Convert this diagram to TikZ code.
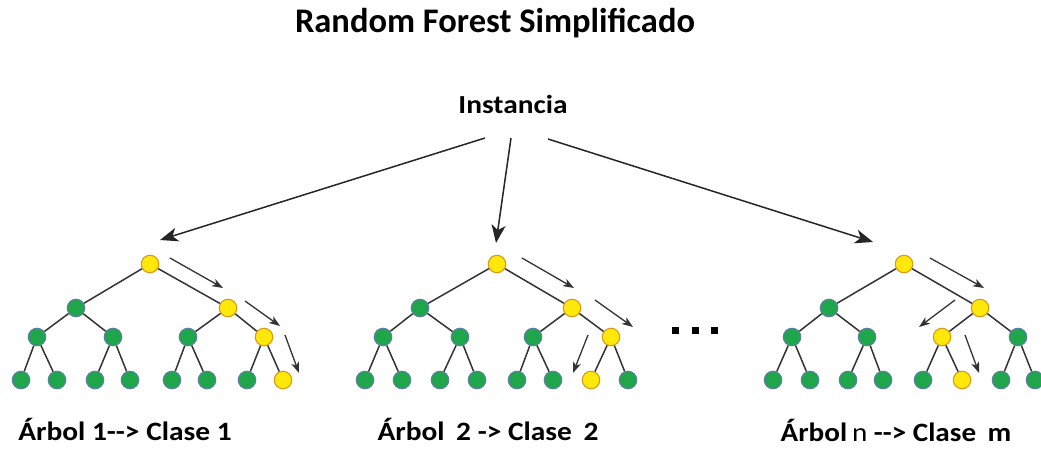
\documentclass[tikz,border=0pt]{standalone}
\usepackage{fontspec}
\setmainfont{Carlito}
\usetikzlibrary{arrows.meta}
\definecolor{gfill}{HTML}{1FA64A}
\definecolor{gline}{HTML}{5C7FA3}
\definecolor{yfill}{HTML}{FFE80A}
\definecolor{yline}{HTML}{D99A1A}
\definecolor{edgec}{HTML}{333333}
\tikzset{
  gn/.style={circle,minimum size=17.5pt,inner sep=0pt,fill=gfill,draw=gline,line width=1.1pt},
  yn/.style={circle,minimum size=17.5pt,inner sep=0pt,fill=yfill,draw=yline,line width=1.1pt},
  tedge/.style={draw=edgec,line width=1.5pt},
  bigarrow/.style={draw=black!85,line width=1.5pt,-{Stealth[length=18pt,width=14pt,inset=5pt]}},
  smallarrow/.style={draw=black!80,line width=1.3pt,-{Stealth[length=11pt,width=8pt,inset=3pt]}},
  lbl/.style={font=\bfseries\fontsize{26.5}{30}\selectfont,inner sep=0pt,anchor=base},
  dot/.style={fill=black,minimum size=7pt,inner sep=0pt},
}
\begin{document}
\begin{tikzpicture}[x=1pt,y=-1pt]
\useasboundingbox (0,0) rectangle (1041,450);
\node[font=\bfseries\fontsize{34.5}{40}\selectfont,inner sep=0pt,anchor=base] (title) at (495,32) {Random Forest Simplificado};
\node[font=\bfseries\fontsize{26}{30}\selectfont,inner sep=0pt,anchor=base] (inst) at (513,113) {\scalebox{1.13}[1]{Instancia}};

% ---------- Tree 1 ----------
\node[yn] (a0) at (150,264) {};
\node[gn] (a1) at (76,308) {};
\node[yn] (a2) at (228,308) {};
\node[gn] (a3) at (37,337) {};
\node[gn] (a4) at (113,337) {};
\node[gn] (a5) at (188,337) {};
\node[yn] (a6) at (264,337) {};
\node[gn] (a7) at (21,380) {};
\node[gn] (a8) at (57,380) {};
\node[gn] (a9) at (95,380) {};
\node[gn] (a10) at (130,380) {};
\node[gn] (a11) at (172,380) {};
\node[gn] (a12) at (207,380) {};
\node[gn] (a13) at (247,380) {};
\node[yn] (a14) at (283,380) {};
% ---------- Tree 2 ----------
\node[yn] (b0) at (497,264) {};
\node[gn] (b1) at (420,308) {};
\node[yn] (b2) at (572,308) {};
\node[gn] (b3) at (383,337) {};
\node[gn] (b4) at (460,337) {};
\node[gn] (b5) at (533,337) {};
\node[yn] (b6) at (611,337) {};
\node[gn] (b7) at (365,380) {};
\node[gn] (b8) at (402,380) {};
\node[gn] (b9) at (440,380) {};
\node[gn] (b10) at (477,380) {};
\node[gn] (b11) at (517,380) {};
\node[gn] (b12) at (553,380) {};
\node[yn] (b13) at (591,380) {};
\node[gn] (b14) at (628,380) {};
% ---------- Tree 3 ----------
\node[yn] (c0) at (904,264) {};
\node[gn] (c1) at (829,308) {};
\node[yn] (c2) at (980,308) {};
\node[gn] (c3) at (792,337) {};
\node[gn] (c4) at (867,337) {};
\node[yn] (c5) at (942,337) {};
\node[gn] (c6) at (1018,337) {};
\node[gn] (c7) at (773,380) {};
\node[gn] (c8) at (810,380) {};
\node[gn] (c9) at (848,380) {};
\node[gn] (c10) at (883,380) {};
\node[gn] (c11) at (923,380) {};
\node[yn] (c12) at (962,380) {};
\node[gn] (c13) at (1001,380) {};
\node[gn] (c14) at (1035,380) {};

\foreach \t in {a,b,c}{
  \draw[tedge] (\t0) -- (\t1);
  \draw[tedge] (\t0) -- (\t2);
  \draw[tedge] (\t1) -- (\t3);
  \draw[tedge] (\t1) -- (\t4);
  \draw[tedge] (\t2) -- (\t5);
  \draw[tedge] (\t2) -- (\t6);
  \draw[tedge] (\t3) -- (\t7);
  \draw[tedge] (\t3) -- (\t8);
  \draw[tedge] (\t4) -- (\t9);
  \draw[tedge] (\t4) -- (\t10);
  \draw[tedge] (\t5) -- (\t11);
  \draw[tedge] (\t5) -- (\t12);
  \draw[tedge] (\t6) -- (\t13);
  \draw[tedge] (\t6) -- (\t14);
}

% dots
\node[dot] (d1) at (675,330) {};
\node[dot] (d2) at (695,330) {};
\node[dot] (d3) at (714,330) {};

% arrows from Instancia
\coordinate (s1) at (485,138);
\coordinate (s2) at (511,138);
\coordinate (s3) at (548,139);
\coordinate (e1) at (160,240);
\coordinate (e2) at (496,243);
\coordinate (e3) at (873,242);
\draw[bigarrow] (s1) -- (e1);
\draw[bigarrow] (s2) -- (e2);
\draw[bigarrow] (s3) -- (e3);

% path arrows tree 1
\coordinate (p1) at (170,258); \coordinate (q1) at (223,288);
\coordinate (p2) at (245,301); \coordinate (q2) at (280,326);
\coordinate (p3) at (285,335); \coordinate (q3) at (299,373);
\draw[smallarrow] (p1) -- (q1);
\draw[smallarrow] (p2) -- (q2);
\draw[smallarrow] (p3) -- (q3);
% tree 2
\coordinate (p4) at (522,258); \coordinate (q4) at (574,288);
\coordinate (p5) at (595,300); \coordinate (q5) at (633,327);
\coordinate (p6) at (588,335); \coordinate (q6) at (573,373);
\draw[smallarrow] (p4) -- (q4);
\draw[smallarrow] (p5) -- (q5);
\draw[smallarrow] (p6) -- (q6);
% tree 3
\coordinate (p7) at (930,258); \coordinate (q7) at (984,288);
\coordinate (p8) at (955,300); \coordinate (q8) at (919,327);
\coordinate (p9) at (965,335); \coordinate (q9) at (979,373);
\draw[smallarrow] (p7) -- (q7);
\draw[smallarrow] (p8) -- (q8);
\draw[smallarrow] (p9) -- (q9);

% labels
\node[lbl] (l1) at (125,440) {\scalebox{1.11}[1]{Árbol 1-{}-> Clase 1}};
\node[lbl] (l2) at (488,440) {\scalebox{1.11}[1]{Árbol\, 2 -> Clase\, 2}};
\node[lbl] (l3) at (896,441) {\scalebox{1.1}[1]{Árbol\,{\mdseries n} -{}-> Clase\, m}};
\end{tikzpicture}
\end{document}
